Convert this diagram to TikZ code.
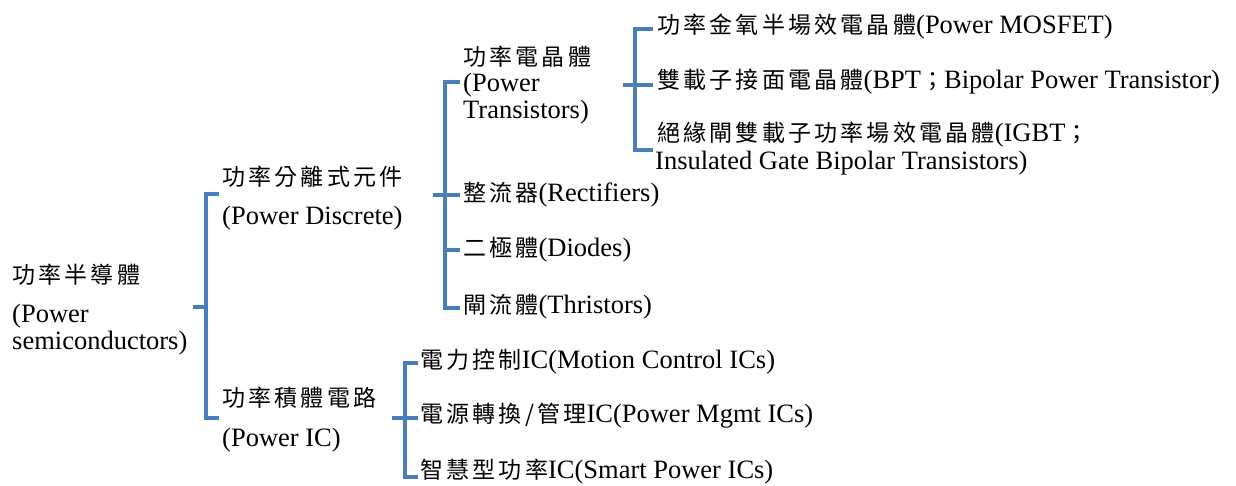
\documentclass[tikz,border=0pt]{standalone}
\usepackage{fontspec}
\setmainfont{Liberation Serif}
\newfontfamily\zhfont[LetterSpace=14]{Noto Sans CJK TC}
\newcommand{\zh}[1]{{\zhfont\fontsize{23}{25}\selectfont #1}}
\definecolor{bblue}{RGB}{74,126,187}
\begin{document}
\begin{tikzpicture}[x=1pt,y=-1pt,
  lbl/.style={anchor=west, inner sep=0pt, font=\fontsize{26.5}{27}\selectfont, align=left, text=black},
  br/.style={draw=bblue, line width=4pt, line join=miter, line cap=butt}]
\useasboundingbox (0,0) rectangle (1236,486);
% texts
\node[lbl] (root) at (12,275) {\zh{功率半導體}};
\node[lbl] (rootEn) at (12,330) {(Power\\semiconductors)};
\node[lbl] (disc) at (222,177) {\zh{功率分離式元件}};
\node[lbl] (discEn) at (222,218) {(Power Discrete)};
\node[lbl] (ic) at (222,398) {\zh{功率積體電路}};
\node[lbl] (icEn) at (222,440) {(Power IC)};
\node[lbl] (tr) at (463,57) {\zh{功率電晶體}};
\node[lbl] (trEn) at (463,99) {(Power\\Transistors)};
\node[lbl] (rect) at (463,195) {\zh{整流器}(Rectifiers)};
\node[lbl] (diode) at (463,250) {\zh{二極體}(Diodes)};
\node[lbl] (thy) at (463,307) {\zh{閘流體}(Thristors)};
\node[lbl] (mos) at (657,27) {\zh{功率金氧半場效電晶體}(Power MOSFET)};
\node[lbl] (bpt) at (657,82) {\zh{雙載子接面電晶體}(BPT\zh{；}Bipolar Power Transistor)};
\node[lbl] (igbt) at (657,135) {\zh{絕緣閘雙載子功率場效電晶體}(IGBT\zh{；}};
\node[lbl] (igbtEn) at (655,163) {Insulated Gate Bipolar Transistors)};
\node[lbl] (mc) at (420,362) {\zh{電力控制}IC(Motion Control ICs)};
\node[lbl] (pm) at (420,416) {\zh{電源轉換/管理}IC(Power Mgmt ICs)};
\node[lbl] (sp) at (420,472) {\zh{智慧型功率}IC(Smart Power ICs)};
% bracket 1
\coordinate (b1s) at (193,307); \coordinate (b1m) at (206,307);
\coordinate (b1t) at (206,194); \coordinate (b1b) at (206,418);
\coordinate (b1te) at (219,194); \coordinate (b1be) at (219,418);
\draw[br] (b1te) -- (b1t) -- (b1b) -- (b1be);
\draw[br] (b1s) -- (b1m);
% bracket 2
\coordinate (b2s) at (433,195); \coordinate (b2m) at (445,195);
\coordinate (b2t) at (445,82); \coordinate (b2b) at (445,308);
\coordinate (b2te) at (460,82); \coordinate (b2be) at (460,308);
\coordinate (b2r) at (460,195); \coordinate (b2d) at (445,250); \coordinate (b2de) at (460,250);
\draw[br] (b2te) -- (b2t) -- (b2b) -- (b2be);
\draw[br] (b2s) -- (b2r);
\draw[br] (b2d) -- (b2de);
% bracket 3
\coordinate (b3s) at (623,85); \coordinate (b3r) at (653,85);
\coordinate (b3t) at (635,29); \coordinate (b3b) at (635,150);
\coordinate (b3te) at (653,29); \coordinate (b3be) at (653,150);
\draw[br] (b3te) -- (b3t) -- (b3b) -- (b3be);
\draw[br] (b3s) -- (b3r);
% bracket 4
\coordinate (b4s) at (392,418); \coordinate (b4r) at (418,418);
\coordinate (b4t) at (405,363); \coordinate (b4b) at (405,477);
\coordinate (b4te) at (418,363); \coordinate (b4be) at (418,477);
\draw[br] (b4te) -- (b4t) -- (b4b) -- (b4be);
\draw[br] (b4s) -- (b4r);
\end{tikzpicture}
\end{document}
